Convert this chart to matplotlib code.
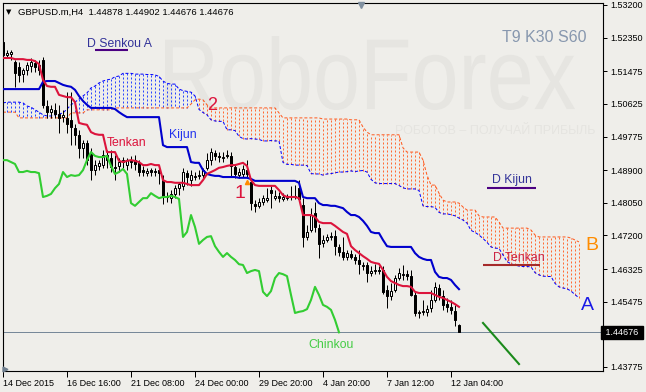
"""
GBPUSD H4 with Ichimoku (T9 K30 S60), RoboForex-style chart.
"""
import matplotlib
matplotlib.use("Agg")
import matplotlib.pyplot as plt
import numpy as np
from matplotlib.font_manager import FontProperties
from matplotlib.patches import PathPatch
from matplotlib.textpath import TextPath
from matplotlib.transforms import Affine2D, blended_transform_factory

W, H = 646, 392
BG = "#EFEEEA"
plt.rcParams["font.family"] = ["Liberation Sans", "DejaVu Sans"]

# ---- candles, 14 Dec 2015 00:00 -> 12 Jan 2016 (bar 0 .. 114) ----
opens = [
    1.5224, 1.5190, 1.5192, 1.5172, 1.5158, 1.5140, 1.5151, 1.5161, 1.5169, 1.5164,
    1.5177, 1.5057, 1.5041, 1.5047, 1.5036, 1.5028, 1.5026, 1.5020, 1.5000, 1.4981,
    1.4948, 1.4961, 1.4935, 1.4890, 1.4901, 1.4903, 1.4929, 1.4922, 1.4898, 1.4901,
    1.4911, 1.4903, 1.4916, 1.4916, 1.4908, 1.4890, 1.4882, 1.4890, 1.4888, 1.4890,
    1.4864, 1.4820, 1.4817, 1.4828, 1.4843, 1.4849, 1.4882, 1.4864, 1.4872, 1.4875,
    1.4877, 1.4895, 1.4916, 1.4935, 1.4927, 1.4922, 1.4929, 1.4927, 1.4898, 1.4877,
    1.4880, 1.4890, 1.4859, 1.4802, 1.4797, 1.4807, 1.4812, 1.4838, 1.4817, 1.4823,
    1.4815, 1.4817, 1.4820, 1.4823, 1.4843, 1.4799, 1.4716, 1.4734, 1.4778, 1.4739,
    1.4700, 1.4708, 1.4716, 1.4718, 1.4690, 1.4677, 1.4664, 1.4672, 1.4664, 1.4656,
    1.4640, 1.4643, 1.4622, 1.4627, 1.4630, 1.4630, 1.4578, 1.4562, 1.4578, 1.4609,
    1.4617, 1.4619, 1.4614, 1.4565, 1.4518, 1.4521, 1.4521, 1.4531, 1.4552, 1.4583,
    1.4562, 1.4541, 1.4534, 1.4523, 1.44878,
]
highs = [
    1.5234, 1.5203, 1.5203, 1.5177, 1.5172, 1.5156, 1.5172, 1.5182, 1.5177, 1.5177,
    1.5185, 1.5073, 1.5060, 1.5065, 1.5060, 1.5047, 1.5093, 1.5093, 1.5010, 1.4994,
    1.4968, 1.4968, 1.4948, 1.4916, 1.4916, 1.4942, 1.4942, 1.4942, 1.4929, 1.4922,
    1.4924, 1.4922, 1.4927, 1.4929, 1.4916, 1.4901, 1.4895, 1.4895, 1.4895, 1.4901,
    1.4877, 1.4833, 1.4838, 1.4851, 1.4859, 1.4895, 1.4890, 1.4890, 1.4885, 1.4890,
    1.4895, 1.4935, 1.4948, 1.4942, 1.4937, 1.4937, 1.4942, 1.4937, 1.4906, 1.4895,
    1.4903, 1.4916, 1.4869, 1.4812, 1.4817, 1.4825, 1.4843, 1.4849, 1.4838, 1.4833,
    1.4830, 1.4828, 1.4849, 1.4851, 1.4864, 1.4817, 1.4747, 1.4791, 1.4807, 1.4750,
    1.4721, 1.4724, 1.4729, 1.4734, 1.4698, 1.4716, 1.4682, 1.4682, 1.4672, 1.4682,
    1.4651, 1.4651, 1.4640, 1.4645, 1.4640, 1.4640, 1.4591, 1.4596, 1.4617, 1.4635,
    1.4643, 1.4630, 1.4630, 1.4573, 1.4526, 1.4552, 1.4539, 1.4578, 1.4599, 1.4594,
    1.4578, 1.4557, 1.4552, 1.4539, 1.44902,
]
lows = [
    1.5182, 1.5182, 1.5177, 1.5106, 1.5120, 1.5120, 1.5138, 1.5145, 1.5145, 1.5138,
    1.5052, 1.5026, 1.5026, 1.5026, 1.4987, 1.5015, 1.4987, 1.4955, 1.4955, 1.4922,
    1.4922, 1.4903, 1.4864, 1.4877, 1.4890, 1.4895, 1.4895, 1.4885, 1.4864, 1.4885,
    1.4895, 1.4890, 1.4895, 1.4890, 1.4875, 1.4875, 1.4875, 1.4875, 1.4875, 1.4854,
    1.4802, 1.4807, 1.4804, 1.4817, 1.4825, 1.4838, 1.4851, 1.4849, 1.4864, 1.4867,
    1.4869, 1.4890, 1.4903, 1.4916, 1.4911, 1.4911, 1.4922, 1.4875, 1.4869, 1.4869,
    1.4872, 1.4869, 1.4786, 1.4781, 1.4791, 1.4799, 1.4807, 1.4791, 1.4812, 1.4807,
    1.4810, 1.4812, 1.4812, 1.4815, 1.4812, 1.4690, 1.4708, 1.4729, 1.4729, 1.4661,
    1.4690, 1.4703, 1.4708, 1.4669, 1.4666, 1.4656, 1.4656, 1.4659, 1.4645, 1.4619,
    1.4630, 1.4599, 1.4614, 1.4619, 1.4619, 1.4567, 1.4531, 1.4552, 1.4573, 1.4604,
    1.4604, 1.4604, 1.4562, 1.4510, 1.4505, 1.4513, 1.4510, 1.4521, 1.4547, 1.4552,
    1.4526, 1.4521, 1.4515, 1.4484, 1.44676,
]
closes = [
    1.5190, 1.5195, 1.5198, 1.5143, 1.5138, 1.5151, 1.5164, 1.5172, 1.5158, 1.5151,
    1.5060, 1.5041, 1.5049, 1.5036, 1.5026, 1.5034, 1.5010, 1.5002, 1.4981, 1.4948,
    1.4961, 1.4916, 1.4890, 1.4903, 1.4908, 1.4929, 1.4916, 1.4898, 1.4895, 1.4911,
    1.4916, 1.4916, 1.4911, 1.4906, 1.4885, 1.4885, 1.4888, 1.4885, 1.4885, 1.4882,
    1.4820, 1.4823, 1.4828, 1.4843, 1.4854, 1.4885, 1.4872, 1.4877, 1.4875, 1.4877,
    1.4890, 1.4916, 1.4937, 1.4927, 1.4924, 1.4924, 1.4927, 1.4901, 1.4880, 1.4885,
    1.4893, 1.4880, 1.4804, 1.4797, 1.4807, 1.4817, 1.4817, 1.4830, 1.4823, 1.4817,
    1.4820, 1.4820, 1.4823, 1.4820, 1.4815, 1.4716, 1.4729, 1.4773, 1.4742, 1.4698,
    1.4708, 1.4716, 1.4718, 1.4692, 1.4677, 1.4664, 1.4674, 1.4664, 1.4656, 1.4645,
    1.4643, 1.4622, 1.4627, 1.4630, 1.4627, 1.4573, 1.4562, 1.4575, 1.4609, 1.4622,
    1.4619, 1.4614, 1.4565, 1.4518, 1.4521, 1.4523, 1.4528, 1.4552, 1.4586, 1.4565,
    1.4539, 1.4534, 1.4526, 1.4500, 1.44676,
]

# ---- Ichimoku lines ----
tenkan = [
    1.5182, 1.5182, 1.5182, 1.5179, 1.5179, 1.5179, 1.5177, 1.5177, 1.5174, 1.5166,
    1.5125, 1.5109, 1.5107, 1.5107, 1.5086, 1.5083, 1.5080, 1.5080, 1.5067, 1.5013,
    1.5010, 1.5008, 1.4989, 1.4984, 1.4982, 1.4982, 1.4937, 1.4937, 1.4937, 1.4914,
    1.4911, 1.4914, 1.4916, 1.4914, 1.4911, 1.4903, 1.4903, 1.4906, 1.4903, 1.4903,
    1.4864, 1.4859, 1.4859, 1.4857, 1.4857, 1.4857, 1.4854, 1.4851, 1.4851, 1.4851,
    1.4864, 1.4880, 1.4885, 1.4890, 1.4896, 1.4898, 1.4901, 1.4903, 1.4903, 1.4906,
    1.4909, 1.4901, 1.4864, 1.4851, 1.4849, 1.4849, 1.4849, 1.4849, 1.4849, 1.4838,
    1.4825, 1.4820, 1.4820, 1.4820, 1.4817, 1.4773, 1.4773, 1.4773, 1.4768, 1.4755,
    1.4752, 1.4752, 1.4752, 1.4745, 1.4737, 1.4729, 1.4724, 1.4692, 1.4682, 1.4674,
    1.4666, 1.4659, 1.4651, 1.4648, 1.4646, 1.4630, 1.4612, 1.4601, 1.4596, 1.4591,
    1.4588, 1.4588, 1.4586, 1.4573, 1.4570, 1.4570, 1.4570, 1.4570, 1.4565, 1.4560,
    1.4557, 1.4552, 1.4547, 1.4541, 1.4534,
]
kijun = (
    [1.5101] * 10
    + [1.5120, 1.5122, 1.5122, 1.5122, 1.5117, 1.5112, 1.5109, 1.5107, 1.5099, 1.5083]
    + [1.5070, 1.5060] + [1.5052] * 6 + [1.5049, 1.5041]
    + [1.5034] + [1.5028] * 9
    + [1.4955] + [1.4950] * 6 + [1.4911, 1.4909, 1.4909]
    + [1.4890, 1.4880, 1.4877, 1.4875, 1.4875] + [1.4872] * 4 + [1.4870] * 3
    + [1.4867] + [1.4862] * 11 + [1.4857, 1.4820] + [1.4817] * 3
    + [1.4804, 1.4799, 1.4799, 1.4797, 1.4797, 1.4794, 1.4791, 1.4781, 1.4773,
       1.4773, 1.4768, 1.4758, 1.4745, 1.4729, 1.4726, 1.4726, 1.4708, 1.4692]
    + [1.4690] * 6
    + [1.4674, 1.4664, 1.4659, 1.4656, 1.4656, 1.4625, 1.4612, 1.4609, 1.4609,
       1.4604, 1.4591, 1.4580]
)
# senkou spans already plotted 30 bars ahead (bar 0 .. 144)
senkou_a = [
    1.5065, 1.5067, 1.5067, 1.5067, 1.5067, 1.5065, 1.5057, 1.5054, 1.5047, 1.5041,
    1.5034, 1.5031, 1.5031, 1.5034, 1.5036, 1.5039, 1.5049, 1.5060, 1.5067, 1.5075,
    1.5083, 1.5091, 1.5104, 1.5109, 1.5117, 1.5122, 1.5125, 1.5127, 1.5133, 1.5135,
    1.5142, 1.5142, 1.5142, 1.5140, 1.5140, 1.5140, 1.5139, 1.5139, 1.5138, 1.5134,
    1.5122, 1.5116, 1.5114, 1.5114, 1.5101, 1.5097, 1.5095, 1.5093, 1.5083, 1.5048,
    1.5040, 1.5034, 1.5021, 1.5018, 1.5017, 1.5017, 1.4995, 1.4995, 1.4993, 1.4978,
    1.4972, 1.4971, 1.4972, 1.4971, 1.4970, 1.4966, 1.4966, 1.4967, 1.4966, 1.4966,
    1.4910, 1.4905, 1.4905, 1.4903, 1.4903, 1.4903, 1.4902, 1.4881, 1.4880, 1.4880,
    1.4877, 1.4880, 1.4881, 1.4883, 1.4885, 1.4885, 1.4886, 1.4888, 1.4886, 1.4888,
    1.4889, 1.4885, 1.4866, 1.4857, 1.4855, 1.4855, 1.4855, 1.4855, 1.4855, 1.4850,
    1.4844, 1.4841, 1.4841, 1.4841, 1.4837, 1.4797, 1.4795, 1.4795, 1.4793, 1.4780,
    1.4776, 1.4776, 1.4774, 1.4771, 1.4765, 1.4760, 1.4752, 1.4733, 1.4728, 1.4721,
    1.4712, 1.4702, 1.4690, 1.4687, 1.4686, 1.4669, 1.4652, 1.4646, 1.4643, 1.4640,
    1.4639, 1.4639, 1.4638, 1.4623, 1.4617, 1.4614, 1.4613, 1.4613, 1.4595, 1.4586,
    1.4583, 1.4581, 1.4575, 1.4566, 1.4557,
]
senkou_b = (
    [1.5041] * 4 + [1.5026] * 13 + [1.5039] * 4 + [1.5047] * 7 + [1.5052] * 19
    + [1.5062, 1.5073, 1.5075, 1.5073, 1.5060] + [1.5052] * 17 + [1.5039]
    + [1.5026] * 10 + [1.5023] * 7 + [1.5021] * 3 + [1.5002, 1.4989]
    + [1.4982] * 8 + [1.4948] + [1.4937] * 4
    + [1.4916, 1.4877, 1.4851, 1.4851, 1.4830, 1.4812] + [1.4807] * 3
    + [1.4804, 1.4794] + [1.4786] * 3 + [1.4771] + [1.4768] * 4 + [1.4755]
    + [1.4739] * 7 + [1.4734, 1.4721] + [1.4716] * 8 + [1.4713, 1.4708, 1.4703]
)
chinkou_shift = 30

# ---- axis labels / levels ----
x_tick_bars = [0, 16, 32, 48, 64, 80, 96, 112]
x_tick_labels = ["14 Dec 2015", "16 Dec 16:00", "21 Dec 08:00", "24 Dec 00:00",
                 "29 Dec 20:00", "4 Jan 20:00", "7 Jan 12:00", "12 Jan 04:00"]
y_ticks = [1.53200, 1.52350, 1.51475, 1.50625, 1.49775, 1.48900, 1.48050,
           1.47200, 1.46325, 1.45475, 1.43775]
last_price = 1.44676
forecast_bars = [120, 129]
forecast_prices = [1.4492, 1.4385]
# daily levels: (price, first bar, last bar, colour)
level_lines = [
    (1.5203, 23.0, 31.3, "#4B0082"),   # D Senkou A
    (1.4844, 121.0, 133.3, "#4B0082"), # D Kijun
    (1.4643, 120.0, 134.3, "#A52A2A"), # D Tenkan
]


def fx(px):
    return px / W


def fy(py):
    return 1 - py / H


def label(px, py, s, size, color, ha="left"):
    fig.text(fx(px), fy(py), s, fontsize=size, color=color, ha=ha, va="center")


fig = plt.figure(figsize=(W / 100, H / 100), dpi=100, facecolor=BG)
ax = fig.add_axes([fx(2.5), fy(371), (603 - 2.5) / W, (371 - 2.5) / H])
ax.set_facecolor(BG)
ax.set_xlim(-0.125, 150)
ax.set_ylim(1.43669, 1.53265)

# watermark
tp = TextPath((0, 0), "RoboForex", size=100, prop=FontProperties(family="Liberation Sans"))
bb = tp.get_extents()
wx0, wx1, wtop, wbase = 165, 575, 36, 110
tr = (Affine2D().translate(-bb.x0, -bb.y0)
      .scale((wx1 - wx0) / bb.width / W, (wbase - wtop) / bb.height / H)
      .translate(fx(wx0), fy(wbase)) + fig.transFigure)
ax.add_patch(PathPatch(tp, transform=tr, fc="#E6E5E1", ec="none", zorder=0))
ax.text(fx(595) / ((603 - 2.5) / W) - fx(2.5) / ((603 - 2.5) / W), 1 - (131 - 2.5) / (371 - 2.5),
        "РОБОТОВ – ПОЛУЧАЙ ПРИБЫЛЬ", transform=ax.transAxes, ha="right", va="center",
        fontsize=9, color="#E5E4E0", zorder=0)

o = np.array(opens)
hi = np.array(highs)
lo = np.array(lows)
c = np.array(closes)
bars = np.arange(len(c))
fwd = np.arange(len(senkou_a))
sa = np.array(senkou_a)
sb = np.array(senkou_b)

# cloud hatch
up = sa >= sb
ax.vlines(fwd[up], sa[up], sb[up], color="#2A46FF", lw=0.72,
          linestyles=[(0, (2, 2))], zorder=1)
ax.vlines(fwd[~up], sa[~up], sb[~up], color="#FF6A33", lw=0.72,
          linestyles=[(0, (2, 2))], zorder=1)
ax.plot(fwd, sa, color="#0000FF", lw=0.72, ls=(0, (3, 2)), zorder=2)
ax.plot(fwd, sb, color="#FF5A1F", lw=0.72, ls=(0, (3, 2)), zorder=2)

# candles
ax.vlines(bars, lo, hi, color="black", lw=0.72, zorder=3)
body_lo = np.minimum(o, c)
body_h = np.abs(c - o)
fill = np.where(c > o, "white", "black")
ax.bar(bars, body_h, bottom=body_lo, width=0.55, color=fill,
       edgecolor="black", linewidth=0.72, zorder=3)

# indicator lines
ax.plot(bars[:-chinkou_shift], c[chinkou_shift:], color="#32CD32", lw=1.5, zorder=4)
ax.plot(bars, kijun, color="#0000CD", lw=1.5, zorder=4)
ax.plot(bars, tenkan, color="#DC143C", lw=1.5, zorder=5)

for price, b0, b1, col in level_lines:
    ax.hlines(price, b0, b1, color=col, lw=1.5, zorder=5)

ax.plot(forecast_bars, forecast_prices, color="#1B8A1B", lw=1.5, zorder=5)
ax.axhline(last_price, color="#778899", lw=0.72, zorder=2)
ax.plot([61], [1.4859], marker="^", ms=3, color="#FF8C00", zorder=6)

# axes styling
for s in ax.spines.values():
    s.set_color("black")
    s.set_linewidth(0.8)
ax.yaxis.tick_right()
ax.set_yticks(y_ticks)
ax.set_yticklabels([f"{v:.5f}" for v in y_ticks])
ax.set_xticks(x_tick_bars)
ax.set_xticklabels(x_tick_labels, ha="left")
ax.tick_params(axis="y", direction="out", length=3, width=0.72, pad=2, labelsize=6.5)
ax.tick_params(axis="x", direction="out", length=4, width=0.72, pad=2, labelsize=6.5)

trans = blended_transform_factory(ax.transAxes, ax.transData)
ax.text(1.0, last_price, " 1.44676 ", transform=trans, ha="left", va="center",
        fontsize=6.5, color="white", clip_on=False,
        bbox=dict(boxstyle="square,pad=0.25", fc="black", ec="black"))

# chart shift / scroll markers
fig.lines.append(plt.Line2D([fx(361)], [fy(5)], marker="v", ms=5, color="#8090A0",
                            transform=fig.transFigure))
fig.lines.append(plt.Line2D([fx(5)], [fy(368.5)], marker=">", ms=3.5, color="#708090",
                            transform=fig.transFigure))

# chart texts
label(18, 12, "GBPUSD.m,H4  1.44878 1.44902 1.44676 1.44676", 6.8, "black")
fig.text(fx(9), fy(12), "\u25bc", fontsize=5, color="black", ha="center", va="center",
         family="DejaVu Sans")
label(87, 44, "D Senkou A", 8.8, "#333399")
label(169, 135, "Kijun", 8.8, "#2233EE")
label(107, 143, "Tenkan", 8.8, "#DC143C")
label(235, 193, "1", 14, "#DC143C")
label(207, 105, "2", 13, "#DC143C")
label(587, 37, "T9 K30 S60", 11.5, "#8797AE", ha="right")
label(492, 180, "D Kijun", 8.8, "#333399")
label(493, 258, "D Tenkan", 8.8, "#CC2244")
label(585, 245, "B", 14, "#FF8C00")
label(581, 305, "A", 14, "#1A1AE6")
label(308, 345, "Chinkou", 8.8, "#44CC44")

fig.savefig("out.png", dpi=100, facecolor=BG)
